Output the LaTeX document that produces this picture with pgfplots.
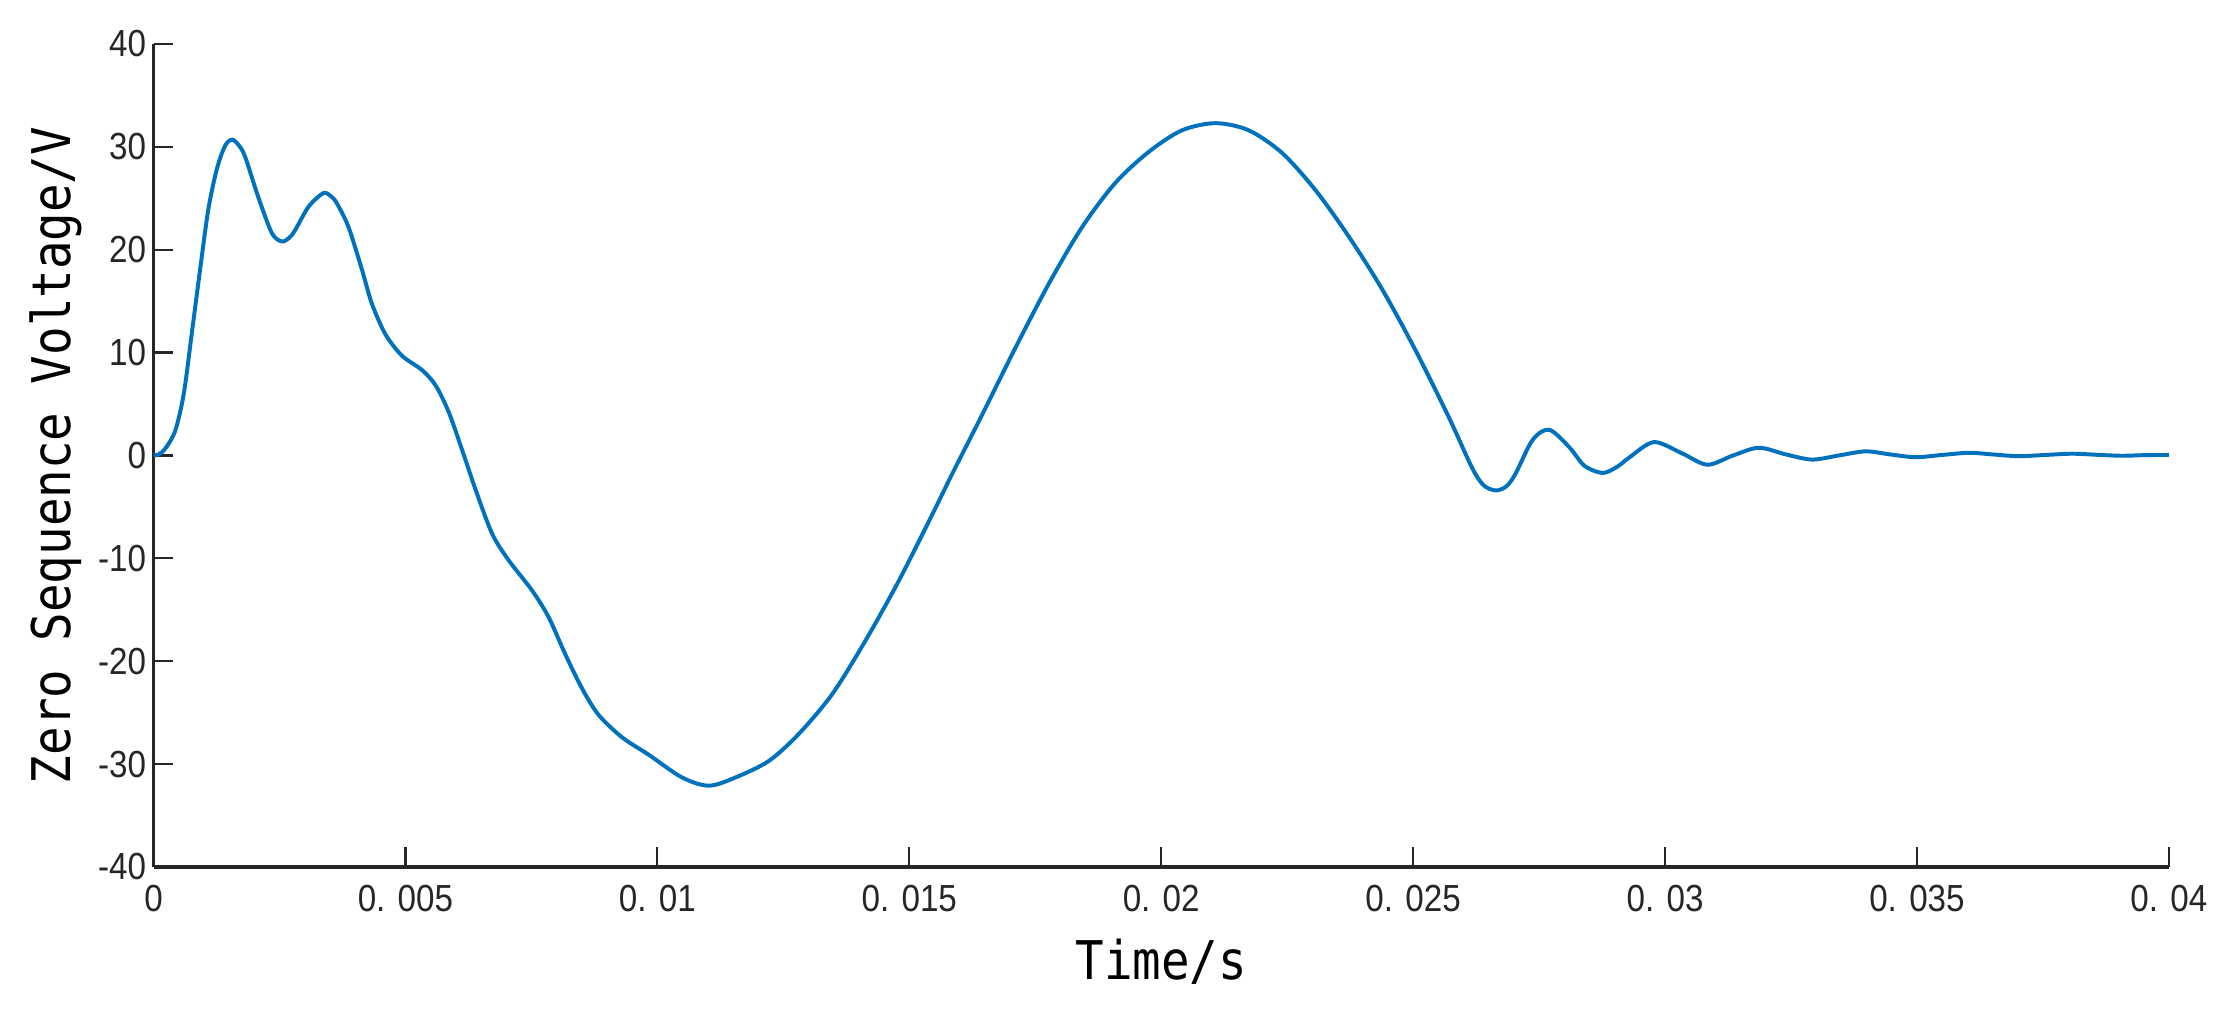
\documentclass[border=0pt]{standalone}
\usepackage{fontspec}
\setmainfont{Liberation Sans}
\newfontfamily\tickfont[FakeStretch=0.88]{Liberation Sans}
\newfontfamily\labelfont[FakeStretch=0.89]{DejaVu Sans Mono}
\usepackage{pgfplots}
\pgfplotsset{compat=1.18}
\usepackage{pgfplotstable}
\definecolor{mblue}{RGB}{0,114,189}
\definecolor{axgray}{RGB}{38,38,38}

% zero sequence voltage, t in ms, v in V
\pgfplotstableread{
t v
0.00 0.0
0.10 0.1
0.23 0.65
0.43 2.4
0.60 6.0
0.76 11.9
0.93 18.3
1.09 24.0
1.26 27.9
1.42 30.1
1.56 30.7
1.70 30.1
1.82 29.0
2.08 25.1
2.35 21.6
2.55 20.8
2.70 21.2
2.81 21.9
3.08 24.2
3.37 25.5
3.52 25.2
3.64 24.5
3.87 22.2
4.14 18.0
4.33 14.8
4.60 11.8
4.93 9.7
5.33 8.3
5.60 6.8
5.86 4.2
6.12 0.6
6.39 -3.3
6.72 -7.6
7.05 -10.2
7.51 -13.1
7.84 -15.7
8.17 -19.3
8.50 -22.6
8.83 -25.2
9.30 -27.4
9.83 -29.1
10.49 -31.3
11.02 -32.1
11.55 -31.3
12.21 -29.7
12.80 -27.1
13.47 -23.2
14.13 -18.0
14.79 -12.2
15.46 -5.7
15.85 -1.8
16.44 3.9
17.11 10.5
17.77 16.7
18.43 22.2
19.09 26.5
19.75 29.5
20.41 31.6
21.08 32.3
21.74 31.6
22.40 29.4
23.06 25.8
23.72 21.3
24.38 16.2
25.05 10.2
25.71 3.7
26.17 -1.2
26.40 -2.9
26.64 -3.4
26.85 -3.0
27.03 -1.8
27.37 1.5
27.70 2.5
28.10 0.8
28.40 -1.0
28.76 -1.7
29.05 -1.1
29.29 -0.2
29.78 1.3
30.34 0.2
30.84 -0.9
31.35 0.0
31.86 0.75
32.40 0.1
32.92 -0.4
33.45 0.0
33.98 0.4
34.47 0.1
34.97 -0.17
35.50 0.05
36.03 0.26
36.50 0.1
37.02 -0.07
37.55 0.05
38.08 0.17
38.60 0.06
39.07 -0.03
39.50 0.03
40.00 0.05
}\zsvoltage

\begin{document}
\begin{tikzpicture}
\begin{axis}[
  scale only axis,
  width=408.2pt, height=166.7pt,
  xmin=0, xmax=40, ymin=-40, ymax=40,
  axis lines*=left,
  axis line style={-, axgray, line width=0.65pt},
  tick style={axgray, line width=0.45pt},
  major tick length=4pt,
  tick align=inside,
  xtick={0,5,10,15,20,25,30,35,40},
  xticklabels={0,0. 005,0. 01,0. 015,0. 02,0. 025,0. 03,0. 035,0. 04},
  ytick={-40,-30,-20,-10,0,10,20,30,40},
  yticklabels={-40,-30,-20,-10,0,10,20,30,40},
  x tick label style={font=\tickfont\fontsize{7.64}{9}\selectfont, text=axgray,
    anchor=base, yshift=-9.1pt, inner sep=0pt},
  y tick label style={font=\tickfont\fontsize{7.64}{9}\selectfont, text=axgray,
    anchor=east, xshift=-1.3pt, inner sep=0pt},
  xlabel={Time/s},
  ylabel={Zero Sequence Voltage/V},
  xlabel style={font=\labelfont\fontsize{10.8}{12}\selectfont,
    at={([yshift=-22.7pt]axis description cs:0.5,0)}, anchor=base, inner sep=0pt},
  ylabel style={font=\labelfont\fontsize{10.8}{12}\selectfont,
    at={([xshift=-16.8pt]axis description cs:0,0.5)}, anchor=base, inner sep=0pt},
]
\addplot[mblue, line width=0.8pt, smooth, no marks] table[x=t, y=v] {\zsvoltage};
\end{axis}
\pgfresetboundingbox
\path[use as bounding box] (-31.1pt,-28.6pt) rectangle (422.4pt,175.6pt);
\end{tikzpicture}
\end{document}
